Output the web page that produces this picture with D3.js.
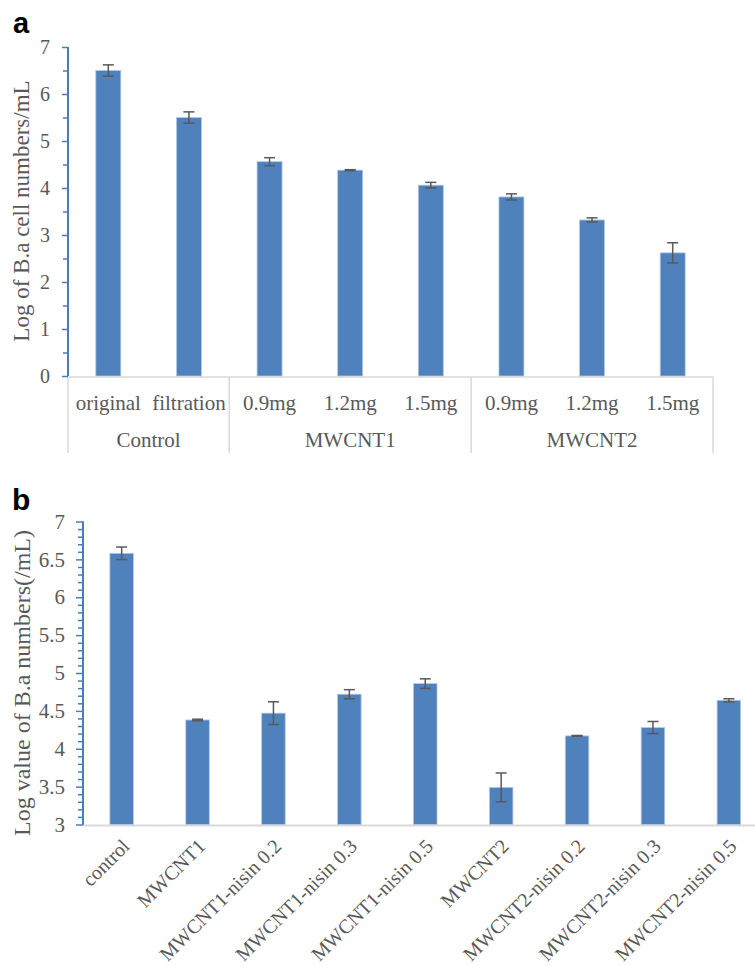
<!DOCTYPE html>
<html>
<head>
<meta charset="utf-8">
<script src="https://cdn.jsdelivr.net/npm/d3@7"></script>
<style>
  html, body { margin: 0; padding: 0; background: #fff; }
  svg { display: block; }
  text { font-family: "Liberation Serif", "Times New Roman", serif; fill: #595959; }
</style>
</head>
<body>
<svg id="chart" width="755" height="966"></svg>
<script>
// ---------- Panel a data ----------
const subLabelsA = ["original", "filtration", "0.9mg", "1.2mg", "1.5mg", "0.9mg", "1.2mg", "1.5mg"];
const groupOfA   = ["Control", "Control", "MWCNT1", "MWCNT1", "MWCNT1", "MWCNT2", "MWCNT2", "MWCNT2"];
const groupsA    = ["Control", "MWCNT1", "MWCNT2"];
const valuesA    = [6.50, 5.50, 4.56, 4.38, 4.06, 3.81, 3.32, 2.62];
const errorsA    = [0.12, 0.12, 0.085, 0.01, 0.06, 0.065, 0.045, 0.215];
const ticksA     = [0, 1, 2, 3, 4, 5, 6, 7];
const titleA     = "Log of B.a cell numbers/mL";

// ---------- Panel b data ----------
const catsB   = ["control", "MWCNT1", "MWCNT1-nisin 0.2", "MWCNT1-nisin 0.3", "MWCNT1-nisin 0.5",
                 "MWCNT2", "MWCNT2-nisin 0.2", "MWCNT2-nisin 0.3", "MWCNT2-nisin 0.5"];
const valuesB = [6.58, 4.38, 4.47, 4.72, 4.86, 3.49, 4.17, 4.28, 4.64];
const errorsB = [0.083, 0.01, 0.15, 0.06, 0.063, 0.19, 0.005, 0.08, 0.02];
const ticksB  = [3, 3.5, 4, 4.5, 5, 5.5, 6, 6.5, 7];
const titleB  = "Log value of B.a numbers(/mL)";

const BAR = "#4f81bd", BAR_EDGE = "#b4c9e4", AXIS_BLUE = "#4a7ebb", GRID = "#d9d9d9", ERR = "#595959";
const svg = d3.select("#chart");

// ================= Panel a =================
{
  const g = svg.append("g");
  const idx = d3.range(valuesA.length);
  const x = d3.scaleBand().domain(idx).range([68, 713]).paddingInner(0.69).paddingOuter(0.345);
  const y = d3.scaleLinear().domain([0, 7]).range([376, 47]);

  svg.append("text").attr("x", 13).attr("y", 33).text("a")
    .style("font-family", "'Liberation Sans', Arial, sans-serif").style("font-weight", "bold")
    .style("font-size", "29px").style("fill", "#000");

  const step = x.step();
  const x0 = x.range()[0];
  g.append("line").attr("x1", x0).attr("x2", x.range()[1]).attr("y1", y(0) + 1).attr("y2", y(0) + 1)
    .attr("stroke", GRID).attr("stroke-width", 1.5);
  const bounds = [0];
  groupsA.forEach(gr => { bounds.push(groupOfA.lastIndexOf(gr) + 1); });
  bounds.forEach(b => {
    g.append("line").attr("x1", x0 + b * step).attr("x2", x0 + b * step)
      .attr("y1", y(0) + 1).attr("y2", 453).attr("stroke", GRID).attr("stroke-width", 1.5);
  });
  g.selectAll(".subl").data(idx).join("text")
    .attr("x", i => x(i) + x.bandwidth() / 2).attr("y", 410)
    .attr("text-anchor", "middle").style("font-size", "21px").text(i => subLabelsA[i]);
  groupsA.forEach(gr => {
    const a = groupOfA.indexOf(gr), b = groupOfA.lastIndexOf(gr) + 1;
    g.append("text").attr("x", x0 + (a + b) / 2 * step).attr("y", 447)
      .attr("text-anchor", "middle").style("font-size", "21px").text(gr);
  });

  g.selectAll(".bar").data(idx).join("rect")
    .attr("x", i => x(i)).attr("width", x.bandwidth())
    .attr("y", i => y(valuesA[i])).attr("height", i => y(0) - y(valuesA[i]))
    .attr("fill", BAR).attr("stroke", BAR_EDGE).attr("stroke-width", 0.8);

  const eb = g.selectAll(".err").data(idx).join("g");
  eb.append("line").attr("x1", i => x(i) + x.bandwidth() / 2).attr("x2", i => x(i) + x.bandwidth() / 2)
    .attr("y1", i => y(valuesA[i] + errorsA[i])).attr("y2", i => y(valuesA[i] - errorsA[i]))
    .attr("stroke", ERR).attr("stroke-width", 1.5);
  [1, -1].forEach(s => {
    eb.append("line").attr("x1", i => x(i) + x.bandwidth() / 2 - 5.5).attr("x2", i => x(i) + x.bandwidth() / 2 + 5.5)
      .attr("y1", i => y(valuesA[i] + s * errorsA[i])).attr("y2", i => y(valuesA[i] + s * errorsA[i]))
      .attr("stroke", ERR).attr("stroke-width", 1.5);
  });

  const minor = d3.range(0.5, 7, 1);
  const minorAx = g.append("g").attr("transform", "translate(68,0)")
    .call(d3.axisLeft(y).tickValues(minor).tickSize(5).tickFormat(""));
  const ax = g.append("g").attr("transform", "translate(68,0)")
    .call(d3.axisLeft(y).tickValues(ticksA).tickSize(6).tickPadding(12).tickFormat(d3.format("d")));
  [minorAx, ax].forEach(a => {
    a.select(".domain").attr("stroke", AXIS_BLUE).attr("stroke-width", 2).attr("d", `M0,${y(7)}V${y(0)}`);
    a.selectAll(".tick line").attr("stroke", AXIS_BLUE).attr("stroke-width", 1.5);
  });
  ax.selectAll(".tick text").style("font-size", "20px").style("font-family", "'Liberation Serif', serif").attr("fill", "#595959");

  svg.append("text").attr("transform", "translate(28.5,211) rotate(-90)")
    .attr("text-anchor", "middle").style("font-size", "23px").text(titleA);
}

// ================= Panel b =================
{
  const g = svg.append("g");
  const x = d3.scaleBand().domain(catsB).range([83.7, 766.8]).paddingInner(0.69).paddingOuter(0.345);
  const y = d3.scaleLinear().domain([3, 7]).range([824.5, 521.5]);

  svg.append("text").attr("x", 12).attr("y", 510).text("b")
    .style("font-family", "'Liberation Sans', Arial, sans-serif").style("font-weight", "bold")
    .style("font-size", "30px").style("fill", "#000");

  g.append("line").attr("x1", 83).attr("x2", 770).attr("y1", y(3) + 1).attr("y2", y(3) + 1)
    .attr("stroke", GRID).attr("stroke-width", 2);

  g.selectAll(".bar").data(catsB).join("rect")
    .attr("x", c => x(c)).attr("width", x.bandwidth())
    .attr("y", (c, i) => y(valuesB[i])).attr("height", (c, i) => y(3) - y(valuesB[i]))
    .attr("fill", BAR).attr("stroke", BAR_EDGE).attr("stroke-width", 0.8);

  const eb = g.selectAll(".err").data(catsB).join("g");
  eb.append("line").attr("x1", c => x(c) + x.bandwidth() / 2).attr("x2", c => x(c) + x.bandwidth() / 2)
    .attr("y1", (c, i) => y(valuesB[i] + errorsB[i])).attr("y2", (c, i) => y(valuesB[i] - errorsB[i]))
    .attr("stroke", ERR).attr("stroke-width", 1.5);
  [1, -1].forEach(s => {
    eb.append("line").attr("x1", c => x(c) + x.bandwidth() / 2 - 5.5).attr("x2", c => x(c) + x.bandwidth() / 2 + 5.5)
      .attr("y1", (c, i) => y(valuesB[i] + s * errorsB[i])).attr("y2", (c, i) => y(valuesB[i] + s * errorsB[i]))
      .attr("stroke", ERR).attr("stroke-width", 1.5);
  });

  g.selectAll(".cl").data(catsB).join("text")
    .attr("transform", c => `translate(${x(c) + x.bandwidth() / 2 + 9},${y(3) + 23}) rotate(-45)`)
    .attr("text-anchor", "end").style("font-size", "20px").text(c => c);

  const minor = d3.range(31, 70).map(v => v / 10).filter(v => Math.round(v * 10) % 5 !== 0);
  const minorAx = g.append("g").attr("transform", "translate(83,0)")
    .call(d3.axisLeft(y).tickValues(minor).tickSize(5).tickFormat(""));
  const ax = g.append("g").attr("transform", "translate(83,0)")
    .call(d3.axisLeft(y).tickValues(ticksB).tickSize(7).tickPadding(11).tickFormat(d3.format("")));
  [minorAx, ax].forEach(a => {
    a.select(".domain").attr("stroke", AXIS_BLUE).attr("stroke-width", 2).attr("d", `M0,${y(7)}V${y(3)}`);
    a.selectAll(".tick line").attr("stroke", AXIS_BLUE).attr("stroke-width", 1.5);
  });
  ax.selectAll(".tick text").style("font-size", "21px").style("font-family", "'Liberation Serif', serif").attr("fill", "#595959");

  svg.append("text").attr("transform", "translate(29.5,683) rotate(-90)")
    .attr("text-anchor", "middle").style("font-size", "24px").text(titleB);
}
</script>
</body>
</html>
